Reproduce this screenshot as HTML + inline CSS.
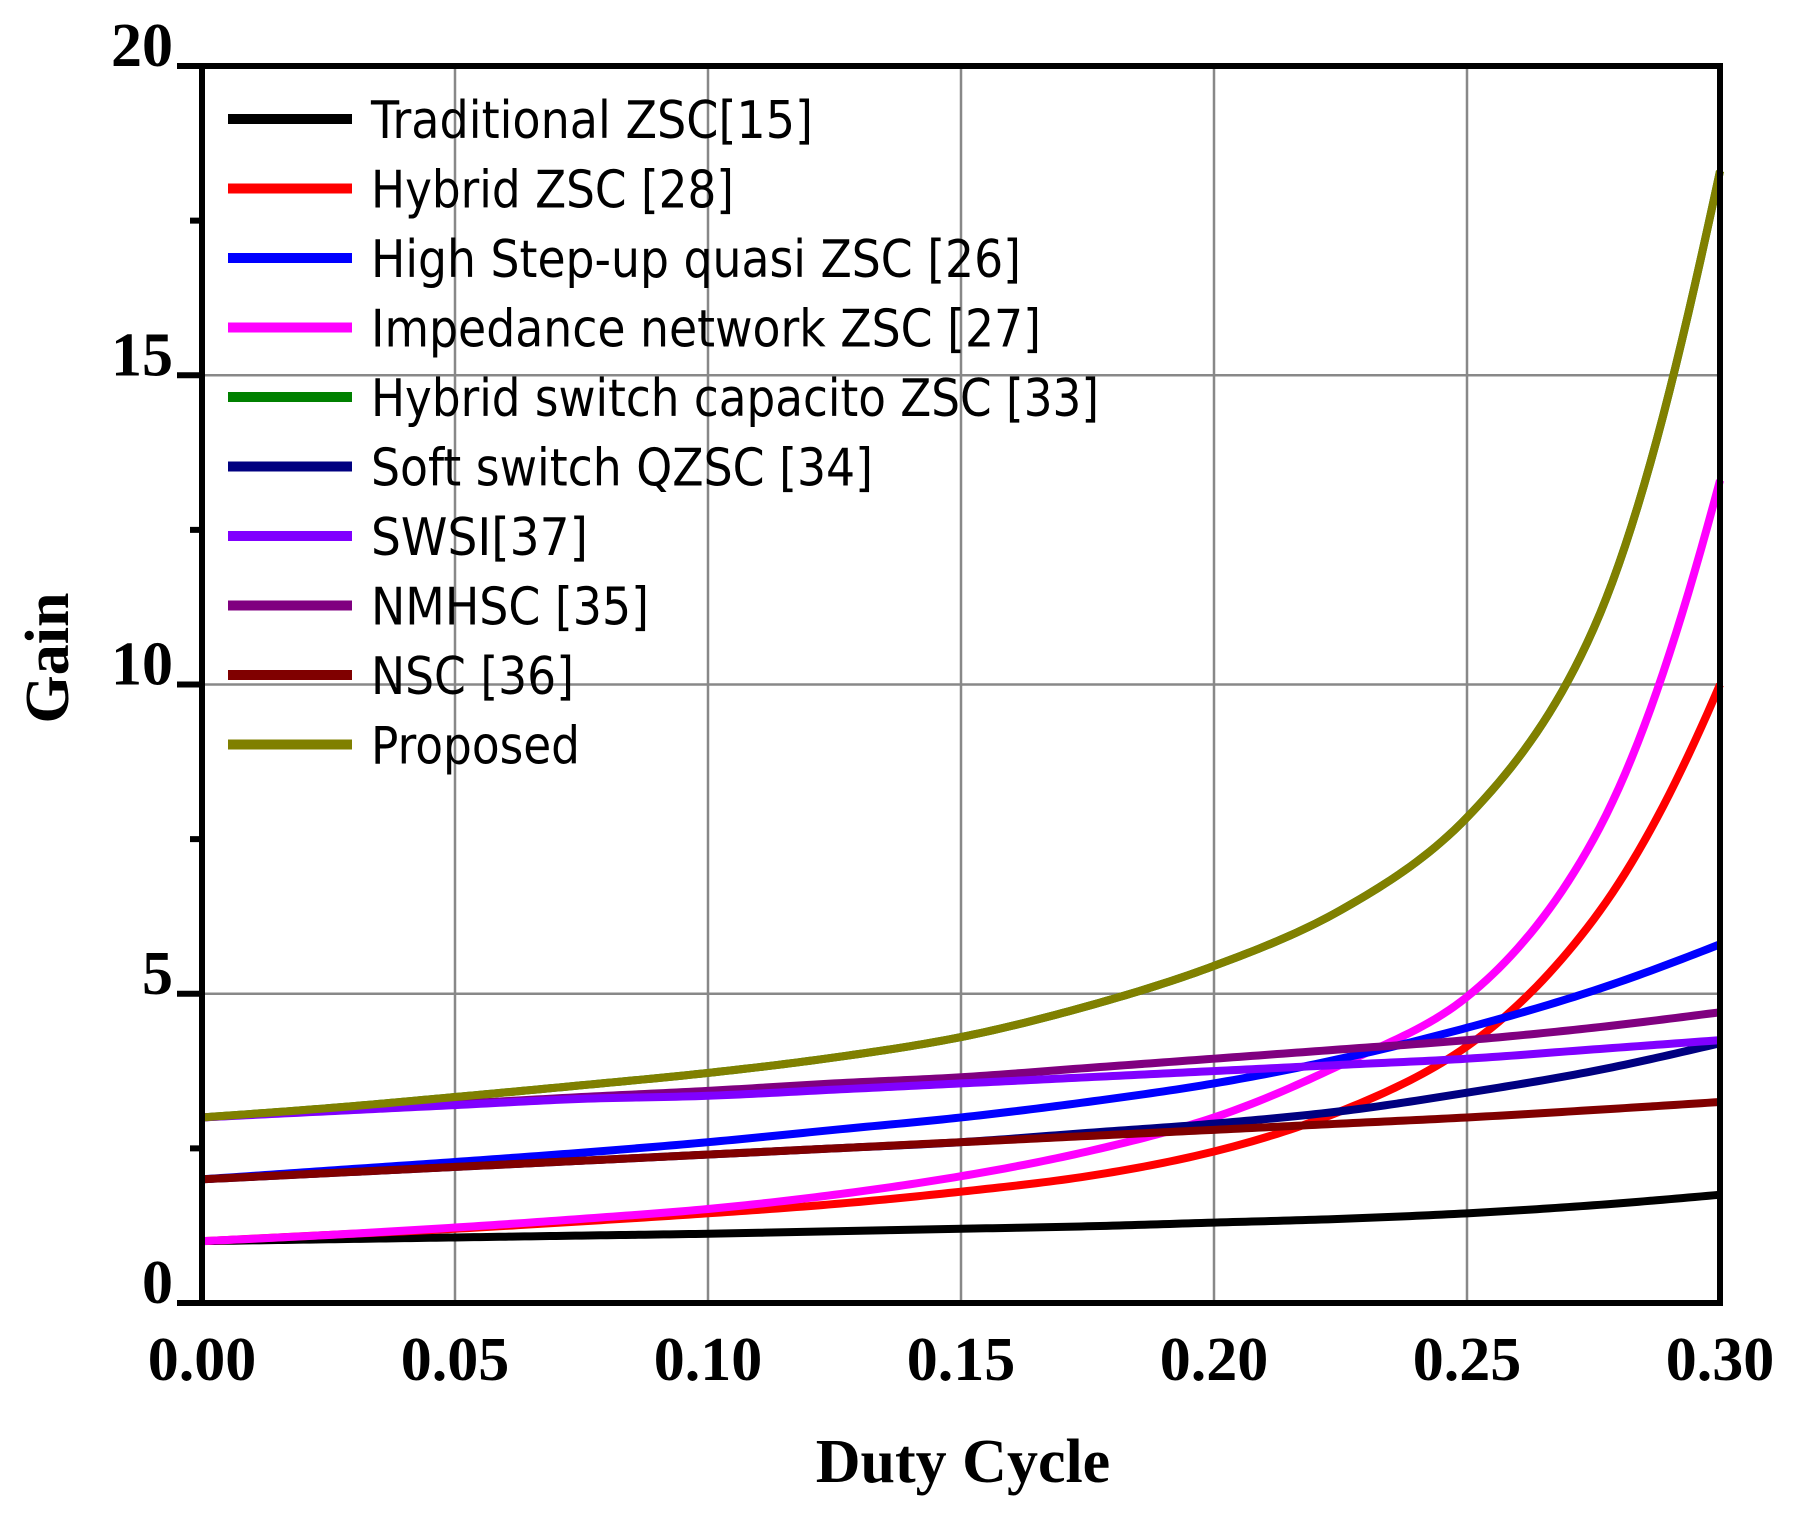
<!DOCTYPE html>
<html><head><meta charset="utf-8"><style>
html,body{margin:0;padding:0;background:#fff;}
svg{display:block;}
</style></head><body>
<svg id="chart" width="1808" height="1518" viewBox="0 0 1808 1518" xmlns="http://www.w3.org/2000/svg">
<g id="grid"></g>
<g id="series"></g>
<g id="axes"></g>
<g id="legend"></g>
<text x="963" y="1482" text-anchor="middle" font-family="Liberation Serif, serif" font-weight="bold" font-size="62">Duty Cycle</text>
<text x="0" y="0" transform="translate(68,658) rotate(-90)" text-anchor="middle" font-family="Liberation Serif, serif" font-weight="bold" font-size="62">Gain</text>
</svg>
<script>
const duty = [0,0.025,0.05,0.075,0.1,0.125,0.15,0.175,0.2,0.225,0.25,0.275,0.3];
const traditional = [1,1.03,1.06,1.09,1.12,1.16,1.2,1.24,1.3,1.36,1.45,1.58,1.75];
const hybridZsc = [1,1.1,1.2,1.32,1.45,1.6,1.8,2.05,2.45,3.1,4.15,6.2,10];
const highStepUp = [2,2.14,2.28,2.43,2.6,2.8,3.0,3.25,3.55,3.95,4.45,5.05,5.8];
const impedance = [1,1.1,1.22,1.36,1.52,1.75,2.05,2.45,3.0,3.85,4.95,7.5,13.3];
const hybridSwitchCap = [3,3.15,3.33,3.52,3.72,3.97,4.3,4.8,5.45,6.35,7.85,10.9,18.3];
const softSwitch = [2,2.1,2.2,2.3,2.4,2.5,2.6,2.75,2.9,3.1,3.4,3.75,4.2];
const swsi = [3,3.1,3.2,3.3,3.35,3.45,3.55,3.65,3.75,3.85,3.95,4.1,4.25];
const nmhsc = [3,3.12,3.22,3.33,3.43,3.55,3.65,3.8,3.95,4.1,4.25,4.45,4.7];
const nsc = [2,2.1,2.2,2.3,2.4,2.5,2.6,2.7,2.8,2.9,3.0,3.12,3.25];
const proposed = [3,3.15,3.33,3.52,3.72,3.97,4.3,4.8,5.45,6.35,7.85,10.9,18.3];
const xTicks = [0,0.05,0.1,0.15,0.2,0.25,0.3];
const xTickLabels = ["0.00","0.05","0.10","0.15","0.20","0.25","0.30"];
const yTicks = [0,5,10,15,20];
const yTickLabels = ["0","5","10","15","20"];
const yMinorTicks = [2.5,7.5,12.5,17.5];
const seriesNames = ["Traditional ZSC[15]","Hybrid ZSC [28]","High Step-up quasi ZSC [26]","Impedance network ZSC [27]","Hybrid switch capacito ZSC [33]","Soft switch QZSC [34]","SWSI[37]","NMHSC [35]","NSC [36]","Proposed"];

const NS="http://www.w3.org/2000/svg";
const L=202,R=1720,T=66,B=1303;
const xs=v=>L+(v-0)/(0.3-0)*(R-L);
const ys=v=>B-(v-0)/(20-0)*(B-T);
function mk(tag,attrs,parent){const e=document.createElementNS(NS,tag);for(const k in attrs)e.setAttribute(k,attrs[k]);parent.appendChild(e);return e;}
const grid=document.getElementById('grid'),axes=document.getElementById('axes'),sg=document.getElementById('series'),lg=document.getElementById('legend');

xTicks.forEach((t,i)=>{
  if(i>0&&i<xTicks.length-1){const g=mk('line',{x1:xs(t),x2:xs(t),y1:T,y2:B,stroke:'#888',"stroke-width":2.5},grid);
  
  }
  const tx=mk('text',{x:xs(t),y:1380,"text-anchor":"middle","font-family":"Liberation Serif, serif","font-weight":"bold","font-size":62},axes);
  tx.textContent=xTickLabels[i];
  
  
});
yTicks.forEach((t,i)=>{
  if(i>0&&i<yTicks.length-1){const g=mk('line',{x1:L,x2:R,y1:ys(t),y2:ys(t),stroke:'#888',"stroke-width":2.5},grid);
  
  }
  const tk=mk('line',{x1:L-25,x2:L,y1:ys(t),y2:ys(t),stroke:'#000',"stroke-width":6},axes);
  
  
  const tx=mk('text',{x:173,y:ys(t),"text-anchor":"end","font-family":"Liberation Serif, serif","font-weight":"bold","font-size":62},axes);
  tx.textContent=yTickLabels[i];
  
  
});
yMinorTicks.forEach(t=>{
  const tk=mk('line',{x1:L-12,x2:L,y1:ys(t),y2:ys(t),stroke:'#000',"stroke-width":6},axes);
  
  
});
const frame=mk('rect',{x:L,y:T,width:R-L,height:B-T,fill:'none',stroke:'#000',"stroke-width":6},axes);



function pathFor(vals){
  const lv=vals.map(v=>Math.log(v));
  const n=duty.length;
  let s='';
  for(let i=0;i<n-1;i++){
    const y0=lv[Math.max(0,i-1)],y1=lv[i],y2=lv[i+1],y3=lv[Math.min(n-1,i+2)];
    const m1=(y2-y0)/(i===0?1:2), m2=(y3-y1)/(i===n-2?1:2);
    for(let k=0;k<=20;k++){
      if(i>0&&k===0)continue;
      const t=k/20,t2=t*t,t3=t2*t;
      const v=(2*t3-3*t2+1)*y1+(t3-2*t2+t)*m1+(-2*t3+3*t2)*y2+(t3-t2)*m2;
      const d=duty[i]+(duty[i+1]-duty[i])*t;
      s+=(s?' L':'M')+xs(d).toFixed(2)+','+ys(Math.exp(v)).toFixed(2);
    }
  }
  return s;
}
const allSeries=[traditional,hybridZsc,highStepUp,impedance,hybridSwitchCap,softSwitch,swsi,nmhsc,nsc,proposed];
const colors=["#000000","#ff0000","#0000ff","#ff00ff","#008000","#000080","#8000ff","#800080","#800000","#808000"];
const keys=["traditional","hybrid-zsc","high-step-up","impedance","hybrid-switch-cap","soft-switch","swsi","nmhsc","nsc","proposed"];
const drawOrder=[4,0,1,3,2,5,8,7,6,9];
drawOrder.forEach(i=>{
  const pth=mk('path',{d:pathFor(allSeries[i]),fill:'none',stroke:colors[i],"stroke-width":8,"stroke-linejoin":"round"},sg);
  
  
});
const legendWidths=[442,363,650,670,728,502,217,278,203,209];
seriesNames.forEach((n,i)=>{
  const y=119+i*69.5;
  const ln=mk('line',{x1:228,x2:352,y1:y,y2:y,stroke:colors[i],"stroke-width":10},lg);
  
  
  const tx=mk('text',{x:371,y:y+19,"font-family":"DejaVu Sans, Liberation Sans, sans-serif","font-size":52,textLength:legendWidths[i],lengthAdjust:"spacingAndGlyphs"},lg);
  tx.textContent=n;
  
  
});
</script>
</body></html>
